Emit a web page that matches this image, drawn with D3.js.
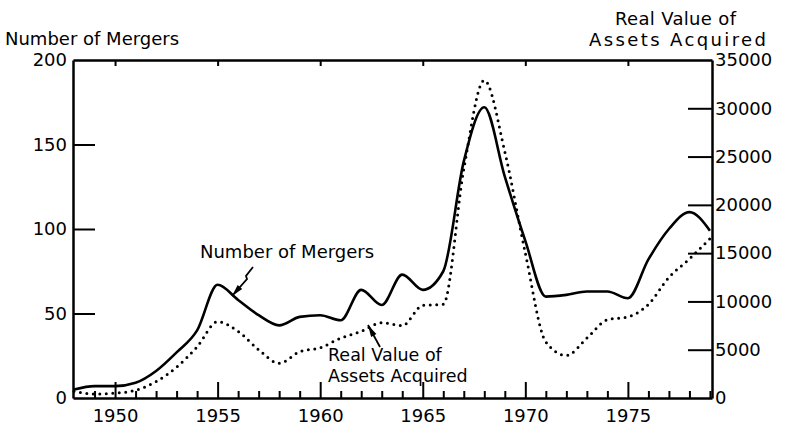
<!DOCTYPE html>
<html>
<head>
<meta charset="utf-8">
<script src="https://cdn.jsdelivr.net/npm/d3@7"></script>
<style>
  body { margin: 0; background: #fff; }
  svg { display: block; font-family: "DejaVu Sans", sans-serif; }
</style>
</head>
<body>
<svg id="chart"></svg>
<script>
// Data, one value per year
const years = d3.range(1948, 1980);
const mergers = [5, 7, 7, 9, 16, 27, 40, 67, 58, 49, 43, 48, 49, 46, 64, 55, 73, 64, 75, 140,
                 172, 131, 93, 60, 61, 63, 63, 59, 82, 100, 110, 99];
const assets = [700, 400, 500, 800, 1700, 3200, 5300, 7900, 6900, 5000, 3600, 4800, 5200, 6200, 6900, 7800,
                7500, 9600, 9700, 23700, 32900, 25500, 15000, 5800, 4400, 6200, 8100, 8400, 9700, 12500,
                14400, 16500];
const leftTicks = [0, 50, 100, 150, 200];
const rightTicks = [0, 5000, 10000, 15000, 20000, 25000, 30000, 35000];
const yearTicks = [1950, 1955, 1960, 1965, 1970, 1975];

const width = 786;
const height = 426;
const marginTop = 60;
const marginRight = 74;
const marginBottom = 28;
const marginLeft = 73;

const svg = d3.select("#chart")
    .attr("width", width)
    .attr("height", height)
    .attr("viewBox", [0, 0, width, height]);

const x = d3.scaleLinear([1947.95, 1979.1], [marginLeft, width - marginRight]);
const yL = d3.scaleLinear([0, 200], [height - marginBottom, marginTop]);
const yR = d3.scaleLinear([0, 35000], [height - marginBottom, marginTop]);

const fontSize = 18;

function styleAxis(g) {
    g.attr("font-family", null).attr("font-size", fontSize);
    g.selectAll(".domain").attr("stroke-width", 2.5);
    g.selectAll(".tick line").attr("stroke-width", 2);
    g.selectAll(".tick text").attr("fill", "#000");
}

// bottom axis, major ticks with labels
svg.append("g")
    .attr("transform", `translate(0,${height - marginBottom})`)
    .call(d3.axisBottom(x).tickValues(yearTicks).tickSize(-16).tickSizeOuter(0).tickPadding(11)
        .tickFormat(d3.format("d")))
    .call(styleAxis);

// bottom axis, minor ticks
svg.append("g")
    .attr("transform", `translate(0,${height - marginBottom})`)
    .call(d3.axisBottom(x).tickValues(years.filter(d => d % 5 != 0 && d > 1948)).tickSize(-7)
        .tickSizeOuter(0).tickFormat(""))
    .call(g => g.select(".domain").remove())
    .call(styleAxis);

// top axis
svg.append("g")
    .attr("transform", `translate(0,${marginTop})`)
    .call(d3.axisTop(x).tickValues(yearTicks).tickSize(-6).tickSizeOuter(0).tickFormat(""))
    .call(styleAxis);

// left axis
svg.append("g")
    .attr("transform", `translate(${marginLeft},0)`)
    .call(d3.axisLeft(yL).tickValues(leftTicks).tickSize(-22).tickSizeOuter(0).tickPadding(6))
    .call(g => g.selectAll(".tick line").filter(d => d == 0 || d == 200).remove())
    .call(styleAxis);

// right axis
svg.append("g")
    .attr("transform", `translate(${width - marginRight},0)`)
    .call(d3.axisRight(yR).tickValues(rightTicks).tickSize(-24).tickSizeOuter(0).tickPadding(3)
        .tickFormat(d3.format("d")))
    .call(g => g.selectAll(".tick line").filter(d => d == 0 || d == 35000).remove())
    .call(styleAxis);

// axis titles
svg.append("text")
    .attr("x", 5).attr("y", 45)
    .attr("font-size", fontSize)
    .text("Number of Mergers");

svg.append("text")
    .attr("x", 615).attr("y", 25)
    .attr("font-size", fontSize)
    .attr("textLength", 121)
    .text("Real Value of");

svg.append("text")
    .attr("x", 589).attr("y", 46)
    .attr("font-size", fontSize)
    .attr("textLength", 177)
    .text("Assets Acquired");

// the two series
const lineMergers = d3.line()
    .x((d, i) => x(years[i]))
    .y(d => yL(d))
    .curve(d3.curveMonotoneX);

const lineAssets = d3.line()
    .x((d, i) => x(years[i]))
    .y(d => yR(d))
    .curve(d3.curveMonotoneX);

svg.append("path")
    .attr("fill", "none")
    .attr("stroke", "#000")
    .attr("stroke-width", 3)
    .attr("stroke-dasharray", "0,6.5")
    .attr("stroke-linecap", "round")
    .attr("d", lineAssets(assets));

svg.append("path")
    .attr("fill", "none")
    .attr("stroke", "#000")
    .attr("stroke-width", 2.6)
    .attr("stroke-linejoin", "round")
    .attr("d", lineMergers(mergers));

// series labels with arrows
svg.append("text")
    .attr("x", 200).attr("y", 258)
    .attr("font-size", fontSize)
    .text("Number of Mergers");

svg.append("text")
    .attr("x", 328).attr("y", 361)
    .attr("font-size", 17.5)
    .text("Real Value of");

svg.append("text")
    .attr("x", 328).attr("y", 382)
    .attr("font-size", 17.5)
    .text("Assets Acquired");

// draws a line through the points and a narrow filled head at the last one
function arrow(pts) {
    svg.append("path")
        .attr("fill", "none")
        .attr("stroke", "#000")
        .attr("stroke-width", 1.8)
        .attr("d", d3.line()(pts));
    const [x0, y0] = pts[pts.length - 2];
    const [x1, y1] = pts[pts.length - 1];
    const len = Math.hypot(x1 - x0, y1 - y0);
    const ux = (x1 - x0) / len, uy = (y1 - y0) / len;
    const bx = x1 - ux * 12, by = y1 - uy * 12;
    svg.append("path")
        .attr("fill", "#000")
        .attr("d", `M${x1},${y1}L${bx - uy * 3},${by + ux * 3}L${bx + uy * 3},${by - ux * 3}Z`);
}

arrow([[253, 267], [246, 276], [247, 279], [232, 296]]);
arrow([[380, 347], [368, 325]]);
</script>
</body>
</html>
